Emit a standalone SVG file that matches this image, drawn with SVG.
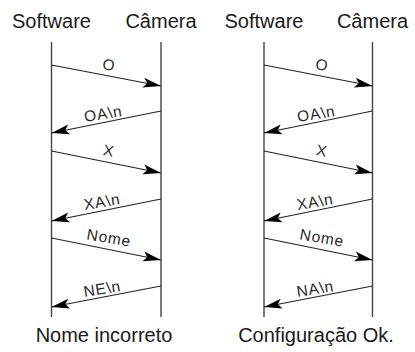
<svg xmlns="http://www.w3.org/2000/svg" width="415" height="352" viewBox="0 0 415 352">
<defs>
<marker id="ah" markerWidth="19" markerHeight="11" refX="18" refY="5.5" orient="auto" markerUnits="userSpaceOnUse">
<path d="M0,0.5 L18,5.5 L0,10.5 L4,5.5 Z" fill="#000"/>
</marker>
<style>
.hd{font-family:"Liberation Sans",Arial,sans-serif;font-size:20px;fill:#1a1a1a;text-anchor:middle}
.ft{font-family:"Liberation Sans",Arial,sans-serif;font-size:20px;fill:#1a1a1a;text-anchor:middle}
.lb{font-family:"Liberation Sans",Arial,sans-serif;font-size:15.5px;fill:#2a2a2a;text-anchor:middle;letter-spacing:0.8px}
.life{stroke:#444;stroke-width:1.4;fill:none}
.msg{stroke:#222;stroke-width:1.1;fill:none;marker-end:url(#ah)}
</style>
</defs>
<rect width="415" height="352" fill="#fff"/>
<g id="sw1"><text class="hd" x="51.5" y="28">Software</text><line class="life" x1="51.5" y1="42" x2="51.5" y2="317"/></g>
<g id="cam1"><text class="hd" x="161" y="28">Câmera</text><line class="life" x1="161" y1="42" x2="161" y2="317"/></g>
<g id="sw2"><text class="hd" x="264" y="28">Software</text><line class="life" x1="264" y1="42" x2="264" y2="317"/></g>
<g id="cam2"><text class="hd" x="372.5" y="28">Câmera</text><line class="life" x1="372.5" y1="42" x2="372.5" y2="317"/></g>
<g id="cap1"><text class="ft" x="104" y="342">Nome incorreto</text></g>
<g id="cap2"><text class="ft" x="316" y="342">Configuração Ok.</text></g>
<g id="connectors">
<line class="msg" x1="51.5" y1="65" x2="161" y2="86"/>
<line class="msg" x1="161" y1="111" x2="51.5" y2="133"/>
<line class="msg" x1="51.5" y1="151" x2="161" y2="173"/>
<line class="msg" x1="161" y1="199" x2="51.5" y2="221"/>
<line class="msg" x1="51.5" y1="238" x2="161" y2="260"/>
<line class="msg" x1="161" y1="286" x2="51.5" y2="307"/>
<line class="msg" x1="264" y1="65" x2="372.5" y2="86"/>
<line class="msg" x1="372.5" y1="111" x2="264" y2="133"/>
<line class="msg" x1="264" y1="151" x2="372.5" y2="173"/>
<line class="msg" x1="372.5" y1="199" x2="264" y2="221"/>
<line class="msg" x1="264" y1="238" x2="372.5" y2="260"/>
<line class="msg" x1="372.5" y1="286" x2="264" y2="307"/>
<text class="lb" transform="translate(108,70) rotate(10)">O</text>
<text class="lb" transform="translate(104,119) rotate(-9)">OA\n</text>
<text class="lb" transform="translate(108,156) rotate(10)">X</text>
<text class="lb" transform="translate(103,207) rotate(-9)">XA\n</text>
<text class="lb" transform="translate(108,243) rotate(10)">Nome</text>
<text class="lb" transform="translate(103,294) rotate(-9)">NE\n</text>
<text class="lb" transform="translate(321,70) rotate(10)">O</text>
<text class="lb" transform="translate(317,119) rotate(-9)">OA\n</text>
<text class="lb" transform="translate(321,156) rotate(10)">X</text>
<text class="lb" transform="translate(316,207) rotate(-9)">XA\n</text>
<text class="lb" transform="translate(321,243) rotate(10)">Nome</text>
<text class="lb" transform="translate(316,294) rotate(-9)">NA\n</text>
</g>
</svg>
